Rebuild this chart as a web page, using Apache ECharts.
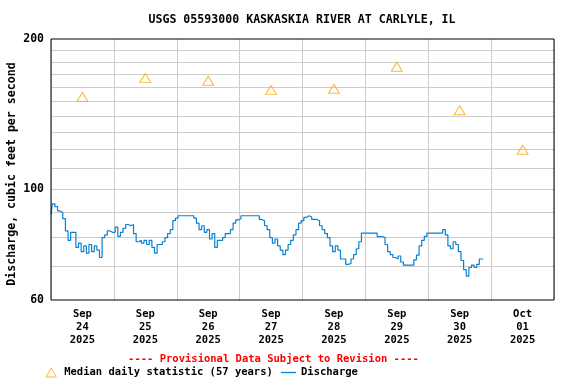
<!DOCTYPE html>
<html>
<head>
<meta charset="utf-8">
<script src="https://cdn.jsdelivr.net/npm/echarts@6/dist/echarts.min.js"></script>
<style>html,body{margin:0;padding:0;background:#fff}#c{width:576px;height:384px}</style>
</head>
<body>
<div id="c"></div>
<script>
const titleText = 'USGS 05593000 KASKASKIA RIVER AT CARLYLE, IL';
const yAxisTitle = 'Discharge, cubic feet per second';
const noteText = '---- Provisional Data Subject to Revision ----';
const medianName = 'Median daily statistic (57 years)';
const dischargeName = 'Discharge';

const dayLabels = ['Sep\n24\n2025','Sep\n25\n2025','Sep\n26\n2025','Sep\n27\n2025','Sep\n28\n2025','Sep\n29\n2025','Sep\n30\n2025','Oct\n01\n2025'];
const medianValues = [153, 167, 165, 158, 159, 176, 144, 120];
const yGridValues = [70, 80, 90, 100, 110, 120, 130, 140, 150, 160, 170, 180, 190];

// hourly discharge, cfs, starting at 00:00 of each day
const dischargeSep24 = [89, 93.5, 92.3, 90.5, 89.8, 87.3, 82.5, 79, 82, 82, 76.5, 78, 75, 77, 74.5, 77.5, 75, 77, 75.5, 73, 80, 81, 82.5, 82];
const dischargeSep25 = [82, 84, 80.5, 82, 83.5, 85, 84.5, 85, 81.5, 78.5, 79, 78, 79, 77.5, 79, 76.5, 74.5, 77.5, 77.5, 78.5, 80, 81.5, 83, 86.5];
const dischargeSep26 = [87.5, 88.5, 88.5, 88.5, 88.5, 88.5, 88.5, 87.5, 85.5, 83, 84.5, 82, 83, 79.5, 81.5, 76.5, 79, 79, 80, 81.5, 81.5, 83, 85.5, 86.8];
const dischargeSep27 = [87.3, 88.5, 88.5, 88.5, 88.5, 88.5, 88.5, 88.5, 87, 86.5, 84.5, 83, 80, 78, 79.5, 77, 75.5, 74, 75.5, 77.5, 79, 81, 83, 85.5];
const dischargeSep28 = [86.5, 87.8, 88.5, 88, 87, 87, 86.5, 84.5, 83, 81.5, 80, 77, 75, 77, 75.5, 72.5, 72.5, 70.7, 71, 72.5, 74, 76, 78.5, 81.7];
const dischargeSep29 = [81.7, 81.7, 81.7, 81.7, 81.7, 80.4, 80.4, 80, 77.5, 75, 74, 73, 72.5, 73.5, 71.5, 70.5, 70.5, 70.5, 70.5, 72.2, 73.8, 77, 79, 80.5];
const dischargeSep30 = [81.7, 81.7, 81.7, 81.7, 81.7, 81.7, 83, 81, 77, 76, 78.5, 77.5, 75, 72, 69, 67, 69.7, 70.5, 69.7, 70.7, 72.5, 72.5];

const HOUR = 3600000, DAY = 86400000;
const startTime = Date.UTC(2025, 8, 24);
const endTime = Date.UTC(2025, 9, 2);

const allDischarge = [].concat(dischargeSep24, dischargeSep25, dischargeSep26, dischargeSep27, dischargeSep28, dischargeSep29, dischargeSep30);
const dischargeData = allDischarge.map((v, i) => [startTime + i * HOUR, v]);
const medianData = medianValues.map((v, i) => [startTime + i * DAY + 12 * HOUR, v]);

const FONT = '"DejaVu Sans Mono", "Liberation Mono", monospace';
const ORANGE = '#ffa500';
const BLUE = '#0a80d2';
const legendText = {fontFamily: FONT, fontWeight: 'bold', fontSize: 10.5, color: '#000'};

const chart = echarts.init(document.getElementById('c'), null, {renderer: 'canvas'});
chart.setOption({
  animation: false,
  backgroundColor: '#ffffff',
  title: {
    text: titleText, left: 302, top: 14, textAlign: 'center', padding: 0,
    textStyle: {fontFamily: FONT, fontWeight: 'bold', fontSize: 11.6, color: '#000'}
  },
  grid: {
    left: 51, right: 22, top: 39, bottom: 84, containLabel: false, outerBoundsMode: 'none',
    show: true, z: 10, borderColor: '#000', borderWidth: 1, backgroundColor: 'transparent'
  },
  legend: [
    {
      left: 45.7, top: 367, itemWidth: 16, itemHeight: 9, padding: 0, selectedMode: false,
      symbolKeepAspect: true, textStyle: legendText,
      data: [{name: medianName, icon: 'path://M5,0 L10,9 L0,9 Z', itemStyle: {color: 'transparent', borderColor: ORANGE, borderWidth: 1}}]
    },
    {
      left: 281, top: 367, itemWidth: 15, itemHeight: 1.3, padding: 0, selectedMode: false,
      textStyle: legendText,
      data: [{name: dischargeName, icon: 'rect', itemStyle: {color: BLUE, borderWidth: 0}}]
    }
  ],
  xAxis: [
    {
      type: 'value', min: startTime, max: endTime, interval: DAY,
      axisLine: {show: false}, axisTick: {show: false}, axisLabel: {show: false},
      splitLine: {show: true, lineStyle: {color: '#cccccc', width: 1}}
    },
    {
      type: 'category', data: dayLabels, boundaryGap: true, position: 'bottom', gridIndex: 0,
      axisLine: {show: false}, axisTick: {show: false}, splitLine: {show: false},
      axisLabel: {interval: 0, margin: 8, fontFamily: FONT, fontWeight: 'bold', fontSize: 10.5, lineHeight: 13, color: '#000'}
    }
  ],
  yAxis: {
    type: 'log', logBase: 10, min: 60, max: 200,
    name: yAxisTitle, nameLocation: 'middle', nameGap: 33.5, nameRotate: 90, nameMoveOverlap: false,
    nameTextStyle: {fontFamily: FONT, fontWeight: 'bold', fontSize: 11.6, color: '#000', padding: [0, 9, 0, 0]},
    axisLine: {show: false}, axisTick: {show: false},
    splitLine: {show: false},
    axisLabel: {margin: 7, fontFamily: FONT, fontWeight: 'bold', fontSize: 11.5, color: '#000'}
  },
  graphic: [{
    type: 'text', x: 273.5, y: 359, z: 20,
    style: {text: noteText, fill: '#ff0000', font: 'bold 10.5px ' + FONT, textAlign: 'center', textVerticalAlign: 'middle', align: 'center', verticalAlign: 'middle'}
  }],
  series: [
    {
      name: dischargeName, type: 'line', xAxisIndex: 0, data: dischargeData,
      step: 'middle', symbol: 'none', showSymbol: false,
      lineStyle: {color: BLUE, width: 1.2}, itemStyle: {color: BLUE},
      markLine: {
        silent: true, z: 1, symbol: ['none', 'none'], label: {show: false},
        lineStyle: {color: '#cccccc', width: 1, type: 'solid'},
        emphasis: {disabled: true},
        data: yGridValues.map(v => ({yAxis: v}))
      }
    },
    {
      name: medianName, type: 'scatter', xAxisIndex: 0, data: medianData,
      symbol: 'triangle', symbolSize: [11, 9], z: 3,
      itemStyle: {color: 'transparent', borderColor: ORANGE, borderWidth: 1}
    }
  ]
});
</script>
</body>
</html>
